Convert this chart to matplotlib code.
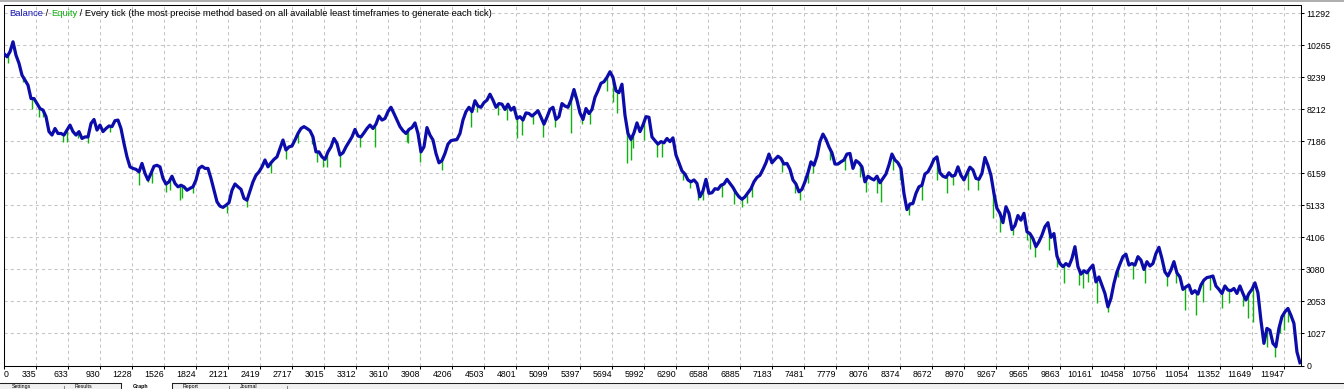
import numpy as np
import matplotlib
matplotlib.use("Agg")
import matplotlib.pyplot as plt
from matplotlib.patches import Rectangle
from matplotlib.lines import Line2D

W, H = 1344, 389
BLUE, GREEN, GRID = "#0c0caa", "#10b010", "#c4c4c4"
plt.rcParams["font.family"] = ["Liberation Sans", "DejaVu Sans"]
FS = 6.3

# balance, evenly spaced over the trades
balance = [
    10000, 9900, 10060, 10380, 9950, 9690, 9310, 9150, 8990, 8560,
    8560, 8400, 8240, 8190, 7980, 7500, 7390, 7600, 7440, 7440,
    7390, 7550, 7710, 7500, 7390, 7500, 7280, 7330, 7330, 7760,
    7890, 7550, 7710, 7500, 7600, 7680, 7660, 7850, 7870, 7600,
    7120, 6690, 6370, 6320, 6290, 6210, 6480, 6160, 5950, 6160,
    6390, 6420, 6370, 6000, 5820, 5890, 6070, 5840, 5730, 5780,
    5730, 5620, 5680, 5730, 5950, 6320, 6390, 6320, 6320, 6000,
    5620, 5250, 5110, 5070, 5140, 5220, 5620, 5820, 5730, 5650,
    5360, 5300, 5600, 5890, 6100, 6210,
    6370, 6590, 6370, 6500, 6610, 6690, 6960, 7230, 6910, 7010,
    7040, 7230, 7440, 7600, 7660, 7600, 7530, 7330, 6850, 6850,
    6690, 6610, 6850, 7010, 7280, 7120, 6750, 6820, 7010, 7170,
    7330, 7570, 7360, 7330, 7460, 7600, 7710, 7600, 7740, 8000,
    7870, 7920, 8140, 8280, 8080, 7870, 7660, 7530, 7440, 7570,
    7630, 7780, 7440, 6850, 7010, 7630, 7390, 7230, 6800, 6500,
    6570, 6800, 7100, 7210, 7230, 7250, 7440, 7870, 8140, 8280,
    8140, 8490, 8320, 8280, 8430, 8510, 8700, 8510, 8280, 8400,
    8380, 8210, 8380, 8190, 8280, 7920,
    7980, 7870, 8100, 8080, 8000, 8080, 8170, 7960, 7740, 7960,
    8210, 8280, 7890, 7980, 8400, 8320, 8280, 8510, 8850, 8510,
    8100, 7890, 8240, 8080, 8210, 8600, 8810, 9050, 9100, 9240,
    9420, 9240, 8810, 8750, 9020, 8030, 7440, 7250, 7460, 7780,
    7500, 7710, 7980, 7960, 7330, 7210, 7100, 7180, 7140, 7280,
    7180, 7300, 6750, 6500, 6240, 6140, 5950, 5890, 5950, 5840,
    5410, 5600, 5970, 5520, 5540, 5670, 5650, 5780, 5820, 5970,
    5840, 5710, 5540, 5410, 5330, 5410, 5540, 5670, 5890, 6030,
    6100, 6290, 6500, 6780, 6500, 6610, 6710,
    6640, 6460, 6480, 6290, 5950, 5820, 5570, 5650, 5890, 6180,
    6530, 6420, 6710, 7180, 7420, 7250, 7010, 6820, 6460, 6460,
    6530, 6590, 6780, 6800, 6320, 6570, 6500, 6370, 5890, 6070,
    6000, 5950, 6070, 5860, 6000, 6140, 6430, 6780, 6590, 6500,
    6320, 5520, 5000, 5180, 5200, 5520, 5730, 5780, 6140, 6210,
    6390, 6610, 6690, 6180, 6070, 6030, 6180, 6070, 6100, 6370,
    6100, 5950, 6160, 6360, 6270, 6000, 5970, 6160, 6670, 6420,
    6100, 5520, 5040, 4880, 4580, 5090, 4880, 4360, 4490, 4810,
    4660, 4880, 4290, 4230, 4070, 3810,
    3970, 4180, 4450, 4580, 4110, 4230, 3510, 3270, 3170, 3270,
    3190, 3430, 3810, 3170, 2930, 3040, 2970, 3110, 3220, 2680,
    2840, 2580, 2310, 1880, 2150, 2630, 3000, 3250, 3490, 3570,
    3220, 3270, 3220, 3490, 3380, 3080, 3330, 3190, 3270, 3590,
    3790, 3430, 3000, 2870, 3060, 3330, 2970, 2840, 2440, 2520,
    2580, 2310, 2400, 2290, 2580, 2740, 2820, 2840, 2870, 2550,
    2440, 2310, 2550, 2420, 2400, 2470, 2310, 2550, 2310, 2100,
    2310, 2440, 2650, 2330, 1450, 710, 1190, 1130, 710, 600,
    1190, 1560, 1720, 1830, 1610, 1350, 440, 90,
]
first_trade, last_trade = 37, 12096

# equity lows (green spikes under the balance line)
dip_trades = [
    78, 211, 295, 366, 403, 589, 620, 729, 822, 1024, 1297, 1374, 1411, 1545,
    1582, 1675, 1694, 1799, 2109, 2295,
    2518, 2661, 2776, 2900, 2953, 3008, 3039, 3163, 3350, 3489, 3784, 3799,
    3908, 4109, 4379, 4435, 4637, 4714, 4814,
    4855, 4957, 5050, 5165, 5310, 5341, 5413, 5490, 5521, 5652, 5707, 5738,
    5838, 5869, 5894, 5993, 6117, 6157, 6291, 6359, 6421, 6495, 6539, 6716,
    6830, 6902, 6948, 6995,
    7274, 7398, 7444, 7522, 7568, 7723, 7863, 8002, 8058, 8157, 8198, 8313,
    8375, 8461, 8576, 8716, 8809, 8871, 9010, 9104, 9243, 9305, 9430, 9559,
    9584, 9631,
    9764, 9832, 9900, 10043, 10074, 10127, 10204, 10313, 10406, 10539, 10654,
    10862, 10943, 11023, 11126, 11191, 11259, 11367, 11439, 11569, 11616,
    11662, 11786, 11864, 11910, 11950, 11988, 12065,
]
dip_values = [
    9710, 9100, 8210, 7980, 7980, 7180, 7180, 7280, 7120, 7500, 5790, 5890, 5840, 5570,
    5620, 5300, 5360, 5520, 4880, 5070,
    6160, 6610, 7120, 7100, 6530, 6370, 6370, 6370, 7010, 7010, 7180, 7120,
    6530, 6270, 7660, 8140, 8030, 7870, 7280,
    7390, 7740, 7330, 7660, 7460, 8620, 7760, 7740, 8380, 8810, 8460, 8100,
    6500, 6590, 6960, 7230, 6690, 6690, 6800, 5950, 5680, 5300, 5300, 5410,
    5180, 5070, 5220, 5410,
    6210, 5520, 5300, 5840, 6160, 6590, 6270, 6050, 5570, 5540, 5250, 6270,
    5950, 4820, 5300, 5950, 5520, 5790, 5620, 5620, 4720, 4290, 4180, 4020,
    3750, 3490,
    3700, 3170, 2630, 2580, 2470, 2680, 1990, 1720, 2840, 2760, 2630,
    2540, 2650, 1775, 1610, 2040, 2420, 1830, 1990, 1900, 1510,
    1400, 600, 260, 1030, 1130, 1400, 490,
]

x_labels = ["0", "335", "633", "930", "1228", "1526", "1824", "2121", "2419", "2717",
            "3015", "3312", "3610", "3908", "4206", "4503", "4801", "5099", "5397",
            "5694", "5992", "6290", "6588", "6885", "7183", "7481", "7779", "8076",
            "8374", "8672", "8970", "9267", "9565", "9863", "10161", "10458", "10756",
            "11054", "11352", "11649", "11947"]
y_labels = ["0", "1027", "2053", "3080", "4106", "5133", "6159", "7186", "8212",
            "9239", "10265", "11292"]

trades = np.linspace(first_trade, last_trade, len(balance))

fig = plt.figure(figsize=(W / 100, H / 100), dpi=100)
fig.patch.set_facecolor("white")
ax = fig.add_axes([4 / W, (H - 365.5) / H, 1297 / W, 360.5 / H])
ax.set_xlim(first_trade, 12106)
ax.set_ylim(0, 11560)

bal_at = np.interp(dip_trades, trades, balance)
ax.vlines(dip_trades, np.minimum(dip_values, bal_at), bal_at, color=GREEN, lw=1.0, zorder=3)
ax.plot(trades, balance, color=BLUE, lw=2.3, zorder=4)

# ticks / grid, MT4 style
xt = [first_trade] + [int(s) for s in x_labels[1:]]
ax.set_xticks(xt)
ax.set_xticklabels(x_labels)
ax.yaxis.tick_right()
ax.set_yticks([int(s) for s in y_labels])
ax.set_yticklabels(y_labels)
ax.tick_params(axis="x", direction="out", length=2.2, width=0.75, pad=0.8, labelsize=FS)
ax.tick_params(axis="y", direction="out", length=2.2, width=0.75, pad=1.5, labelsize=FS)
for i, lbl in enumerate(ax.get_xticklabels()):
    lbl.set_ha("left" if i == 0 else "right")
ax.grid(True, color=GRID, ls=(0, (3, 3)), lw=0.75)
ax.set_axisbelow(True)
for s in ax.spines.values():
    s.set_color("black"); s.set_linewidth(0.75)


def fx(px):
    return px / W


def fy(py):
    return 1 - py / H


# header text, coloured pieces chained one after another
TS = 6.75
t1 = fig.text(fx(9), fy(13.5), "Balance", color="#1414b4", fontsize=TS, va="center")
t2 = ax.annotate(" / ", xy=(1, 0), xycoords=t1, va="bottom", fontsize=TS, color="black")
t3 = ax.annotate("Equity", xy=(1, 0), xycoords=t2, va="bottom", fontsize=TS, color="#10b010")
ax.annotate(" / Every tick (the most precise method based on all available least "
            "timeframes to generate each tick)", xy=(1, 0), xycoords=t3, va="bottom",
            fontsize=TS, color="black")

# window chrome: top strip and the tab bar at the bottom
fig.add_artist(Line2D([0, 1], [fy(0.7)] * 2, color="#a0a0a0", lw=1.2))
fig.add_artist(Rectangle((0, 0), 1, fy(383), facecolor="#f0f0f0", edgecolor="none"))
fig.add_artist(Rectangle((fx(121), 0), fx(51), fy(383), facecolor="white", edgecolor="none"))
fig.add_artist(Line2D([0, fx(121)], [fy(383)] * 2, color="#222222", lw=0.75))
fig.add_artist(Line2D([fx(172), 1], [fy(383)] * 2, color="#222222", lw=0.75))
for px in [121, 172]:
    fig.add_artist(Line2D([fx(px)] * 2, [0, fy(383)], color="#222222", lw=0.75))
for px in [64, 229, 287]:
    fig.add_artist(Line2D([fx(px)] * 2, [0, fy(386)], color="#888888", lw=0.75))
TAB = 3.8
for px, name in [(12, "Settings"), (75, "Results"), (183, "Report"), (240, "Journal")]:
    fig.text(fx(px), fy(388.6), name, fontsize=TAB, va="bottom")
fig.text(fx(133), fy(388.6), "Graph", fontsize=TAB, va="bottom", fontweight="bold")

fig.savefig("out.png", dpi=100)
